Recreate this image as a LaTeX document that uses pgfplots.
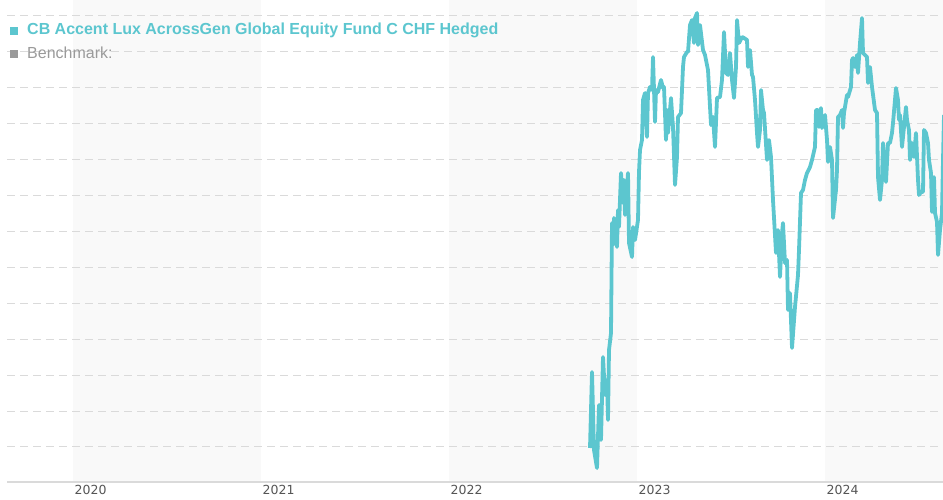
\documentclass[border=0pt]{standalone}
\usepackage{pgfplots}
\pgfplotsset{compat=1.18}
\usepackage{fontspec}
\setmainfont{Liberation Sans}
\newfontfamily\tickfont{DejaVu Sans}
\definecolor{fundc}{HTML}{5CC6CF}
\definecolor{bandc}{HTML}{F9F9F9}
\definecolor{gridc}{HTML}{DADADA}
\definecolor{benchc}{HTML}{9A9A9A}
\definecolor{tickc}{HTML}{555555}
\begin{document}
\begin{tikzpicture}
\begin{axis}[
  at={(7pt,18pt)}, anchor=south west,
  width=936pt, height=482pt, scale only axis,
  set layers,
  xmin=7, xmax=943, ymin=0, ymax=482,
  axis x line*=bottom, axis y line*=left,
  x axis line style={-, draw=gridc, line width=1.5pt},
  y axis line style={draw=none},
  xtick={73,261,449,637,825},
  xticklabels={2020,2021,2022,2023,2024},
  xticklabel style={font=\tickfont\fontsize{12.5}{14}\selectfont, text=tickc, anchor=north west, inner sep=0pt, xshift=1.5pt, yshift=-3pt},
  ytick={35,70.92,...,467},
  yticklabels={},
  ymajorgrids,
  major grid style={dash pattern=on 8pt off 5pt, draw=gridc, line width=1pt},
  major tick length=0pt,
]
\addplot[draw=none, fill=bandc, on layer=axis background] coordinates {(73,0) (73,482) (261,482) (261,0)} -- cycle;
\addplot[draw=none, fill=bandc, on layer=axis background] coordinates {(449,0) (449,482) (637,482) (637,0)} -- cycle;
\addplot[draw=none, fill=bandc, on layer=axis background] coordinates {(825,0) (825,482) (943,482) (943,0)} -- cycle;
\addplot[color=fundc, line width=3.8pt, line join=round, mark=none] coordinates {
(590,34) (592,110) (594,32) (597,14) (599,77) (601,42) (603,125) (605,87) (607,102) (608,62) (609,132) (611,149)
(612,259) (613,237) (614,264) (615,260) (617,235) (618,272) (619,255) (621,309) (623,279) (624,302) (625,267)
(628,309) (629,239) (632,225) (633,255) (635,242) (638,262) (639,310) (640,332) (642,342) (643,382) (645,389)
(647,345) (648,389) (650,395) (652,392) (653,425) (655,360) (656,392) (658,390) (661,402) (663,394) (664,395)
(666,342) (667,372) (668,349) (671,384) (673,355) (675,297) (677,325) (678,365) (681,369) (683,415) (684,425)
(687,430) (688,430) (690,457) (692,462) (694,439) (695,464) (697,469) (698,437) (700,457) (703,432) (705,427)
(707,417) (708,412) (711,357) (713,365) (715,335) (717,384) (720,385) (722,402) (724,450) (726,409) (728,407)
(730,429) (732,402) (734,384) (736,415) (737,462) (739,439) (742,445) (744,444) (747,442) (748,415) (750,432)
(752,407) (753,405) (755,382) (757,349) (758,335) (760,352) (761,392) (763,372) (764,369) (767,322) (769,342)
(771,325) (773,282) (776,229) (778,252) (780,205) (782,249) (783,259) (785,219) (787,222) (788,172) (790,189)
(792,134) (795,175) (798,207) (799,232) (801,289) (803,292) (805,302) (807,309) (810,315) (812,322) (815,335)
(816,372) (818,372) (819,355) (821,374) (822,354) (825,367) (827,342) (828,320) (830,335) (832,322) (833,264)
(836,292) (837,312) (838,365) (840,367) (842,372) (843,354) (844,369) (847,387) (848,385) (851,395) (852,422)
(853,424) (855,415) (857,427) (858,409) (860,439) (862,464) (863,429) (867,425) (868,399) (870,415) (872,395)
(875,372) (877,369) (878,305) (880,282) (882,302) (883,339) (886,300) (888,339) (890,339) (892,349) (893,359)
(896,394) (898,382) (899,362) (900,367) (902,335) (904,355) (906,375) (907,362) (909,352) (910,322) (912,339)
(914,325) (916,349) (918,302) (919,287) (921,290) (923,290) (924,352) (926,349) (928,339) (929,322) (931,309)
(932,270) (934,305) (935,269) (937,260) (938,227) (940,252) (942,269) (943,322) (944,367)
};
\end{axis}
\node[anchor=base west, inner sep=0pt, font=\fontsize{16}{19}\selectfont\bfseries, text=fundc] at (10pt,465pt)
  {\textcolor{fundc}{\rule{8pt}{8pt}}\hspace{9pt}CB Accent Lux AcrossGen Global Equity Fund C CHF Hedged};
\node[anchor=base west, inner sep=0pt, font=\fontsize{16}{19}\selectfont, text=benchc] at (10pt,441.5pt)
  {\textcolor{benchc}{\rule{8pt}{8pt}}\hspace{9pt}Benchmark:};
\pgfresetboundingbox
\path[use as bounding box] (0,0) rectangle (943pt,500pt);
\end{tikzpicture}
\end{document}
